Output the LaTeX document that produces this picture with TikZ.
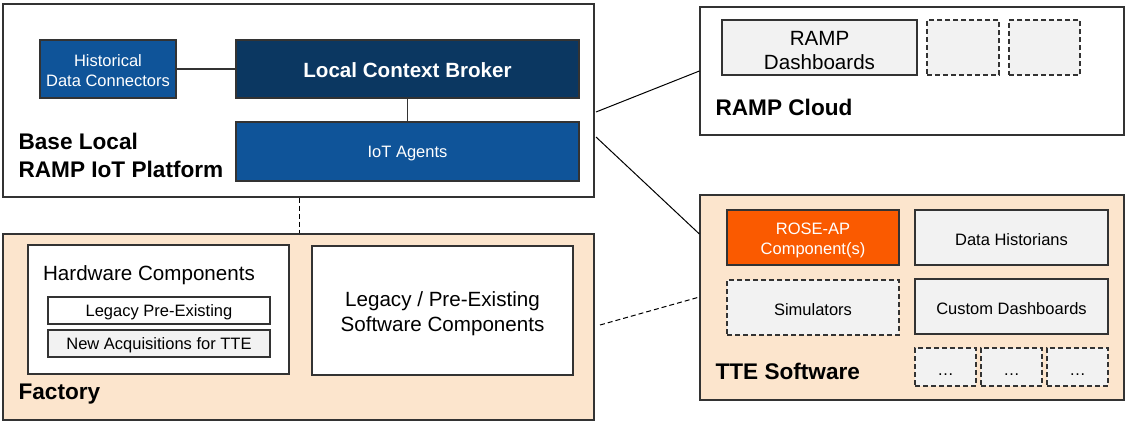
\documentclass[tikz,border=0pt]{standalone}
\usepackage{fontspec}
\setmainfont{Liberation Sans}
\usepackage{tikz}
\usetikzlibrary{arrows}

\definecolor{midblue}{HTML}{0F5499}
\definecolor{navy}{HTML}{0B3761}
\definecolor{peach}{HTML}{FCE5CD}
\definecolor{lgray}{HTML}{F2F2F2}
\definecolor{roseorange}{HTML}{FA5A00}
\definecolor{edge}{HTML}{333333}

\newcommand{\liftline}[1]{\rule{0pt}{#1}}
\tikzset{drop/.style={execute at begin node={\liftline{#1}}}}

\begin{document}
\begin{tikzpicture}[x=1pt,y=-1pt,line width=1.2pt,
                    every node/.style={inner sep=0pt,align=center}]
\tikzstyle{box}=[draw=edge,rectangle,drop=16pt,font=\fontsize{16.5}{19.8}\selectfont]
\tikzstyle{frame}=[box,fill=white]
\tikzstyle{area}=[box,fill=peach]
\tikzstyle{blue}=[box,fill=midblue,text=white]
\tikzstyle{grey}=[box,fill=lgray]
\tikzstyle{dashbox}=[grey,dash pattern=on 5pt off 3pt]
\tikzstyle{title}=[anchor=west,align=left,font=\fontsize{22.6}{28}\selectfont\bfseries]
\tikzstyle{bigtext}=[drop=21pt,font=\fontsize{20.6}{24.7}\selectfont]
\tikzstyle{link}=[draw=black,line width=1pt]
\useasboundingbox (0,0) rectangle (1129,423);

% big areas
\node[frame,minimum width=591,minimum height=193] (base) at (298.5,100.5) {};
\node[area,minimum width=591,minimum height=186] (factory) at (298.5,327) {};
\node[frame,minimum width=424,minimum height=128] (cloud) at (912,71) {};
\node[area,minimum width=424,minimum height=205] (tte) at (912,297.5) {};

% base local platform
\node[blue,minimum width=136,minimum height=58] (hist) at (108,69) {\liftline{15pt}Historical\\Data Connectors};
\node[blue,fill=navy,minimum width=343,minimum height=58,drop=17pt,font=\fontsize{20.6}{24}\selectfont\bfseries] (broker) at (407.5,69) {Local Context Broker};
\node[blue,minimum width=343,minimum height=59] (agents) at (407.5,151.5) {IoT Agents};
\node[title] (basetitle) at (18,155) {Base Local\\RAMP IoT Platform};

% factory
\node[frame,minimum width=261,minimum height=129] (hw) at (158.5,309.5) {};
\node[font=\fontsize{20.6}{26}\selectfont] (hwtitle) at (149,275) {Hardware Components};
\node[frame,minimum width=222,minimum height=27] (legacyhw) at (159,310.5) {Legacy Pre-Existing};
\node[grey,minimum width=222,minimum height=27] (newhw) at (159,343.5) {New Acquisitions for TTE};
\node[frame,bigtext,minimum width=261,minimum height=129] (legacysw) at (442.5,310.5) {\liftline{21pt}Legacy / Pre-Existing\\Software Components};
\node[title] (factorytitle) at (18,394) {Factory};

% cloud
\node[grey,bigtext,minimum width=195,minimum height=55] (dash) at (819.5,47.5) {\liftline{20pt}RAMP\\Dashboards};
\node[dashbox,minimum width=72,minimum height=55] (spare1) at (963,47.5) {};
\node[dashbox,minimum width=71,minimum height=55] (spare2) at (1044.5,47.5) {};
\node[title] (cloudtitle) at (715,107) {RAMP Cloud};

% tte software
\node[blue,fill=roseorange,minimum width=172,minimum height=55] (rose) at (813,237.5) {\liftline{17pt}ROSE-AP\\Component(s)};
\node[grey,minimum width=193,minimum height=55] (histo) at (1011.5,237.5) {Data Historians};
\node[dashbox,minimum width=172,minimum height=55] (sim) at (813,307.5) {Simulators};
\node[grey,minimum width=193,minimum height=55] (custom) at (1011.5,306.5) {Custom Dashboards};
\foreach \i/\x in {1/945.5,2/1011.5,3/1077.5}
  \node[dashbox,minimum width=61,minimum height=38] (more\i) at (\x,367) {\dots};
\node[title] (ttetitle) at (715,371) {TTE Software};

% connections
\coordinate (c1) at (596,112);
\coordinate (c2) at (596,137);
\coordinate (c3) at (600,325);
\draw[edge,line width=1.2pt] (hist.east) -- (broker.west);
\draw[edge,line width=1.2pt] (broker.south) -- (agents.north);
\draw[link,dash pattern=on 5pt off 3pt] (base.south -| 299,0) -- (factory.north -| 299,0);
\draw[link] (c1) -- (cloud.west |- 0,71);
\draw[link] (c2) -- (tte.west |- 0,234);
\draw[link,dash pattern=on 5pt off 3pt] (c3) -- (tte.west |- 0,297);
\end{tikzpicture}
\end{document}
